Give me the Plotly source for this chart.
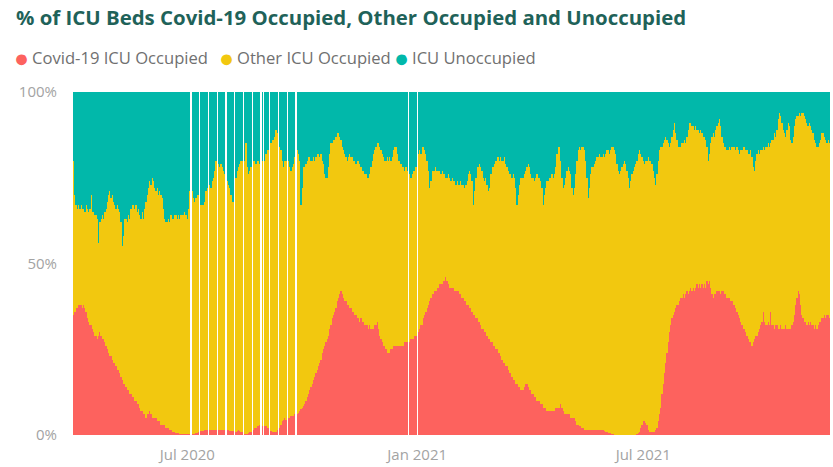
import pandas as pd
import plotly.graph_objects as go

# Daily share of ICU beds (%), starting 1 Apr 2020. None = no report that day.
START_DATE = "2020-04-01"

covid_pct = [
    35, 36, 37, 37, 38, 38, 38, 37,
    38, 37, 36, 34, 33, 32, 32, 31,
    30, 29, 29, 28, 29, 30, 29, 28,
    28, 27, 26, 25, 24, 23, 23, 22,
    21, 21, 20, 19, 19, 18, 17, 16,
    15, 15, 14, 13, 13, 12, 12, 11,
    11, 10, 10, 9, 9, 8, 7, 7,
    6, 6, 5, 6, 6, 7, 6, 5,
    5, 5, 5, 4, 4, 4, 3, 3,
    3, 3, 2, 2, 2, 1.5, 1.5, 1,
    1, 1, 0.5, 0.5, 0.5, 0.3, 0.3, 0.2,
    0.2, 0.2, 0.2, 0.2, 0.2, 0.2, None, 0.2,
    0.3, 0.3, 0.5, 0.5, 1, None, 1.3, 1.3,
    1.3, 1.5, 1.5, 1.5, None, 1.5, 1.5, 1.5,
    1.5, 1.5, 1.5, None, 1.5, 1.5, 1.5, 1.5,
    1.5, 1.5, None, 1.5, 1.5, 1.3, 1.3, 1.2,
    1.2, None, 1, 1.3, 1.5, 1.2, 1, 0.8,
    None, 0.3, 0.3, 0.3, 0.5, 0.8, 1, None,
    1.5, 2, 2, 2.5, 2.5, 3, None, 2.5,
    None, 2.5, 2.5, 2, 2, None, 1.3, 1,
    1, 1, 1, 1.5, None, 2, 3, 4,
    4.5, 5, 4.5, None, 5, 5, 5.5, 5.5,
    5.5, 6, None, 6, 6.5, 7, 7.5, 8,
    8.5, 9, 10, 11, 12, 13, 14, 15,
    16, 17, 18, 19, 20, 21, 22, 24,
    25, 26, 27, 28, 29, 31, 32, 34,
    35, 36, 37, 39, 40, 41, 42, 41,
    40, 39, 39, 38, 38, 37, 37, 36,
    36, 35, 35, 34, 34, 33, 34, 33,
    33, 32, 32, 32, 31, 32, 31, 31,
    31, 32, 32, 33, 31, 29, 28, 27,
    26, 26, 25, 24, 24, 24, 25, 25,
    26, 26, 26, 26, 26, 26, 26, 26,
    26, 27, 27, 27, None, 27, 28, 28,
    28, 29, 29, None, 30, 31, 32, 32,
    34, 35, 36, 37, 38, 39, 40, 41,
    41, 42, 42, 43, 43, 44, 44, 44,
    45, 45, 46, 45, 44, 43, 43, 43,
    43, 42, 42, 42, 42, 41, 41, 40,
    40, 39, 39, 38, 38, 37, 37, 36,
    35, 35, 34, 34, 33, 33, 32, 31,
    31, 30, 30, 29, 28, 28, 27, 27,
    26, 26, 25, 25, 24, 24, 23, 22,
    21, 21, 20, 20, 19, 18, 18, 17,
    16, 16, 15, 15, 14, 14, 13, 13,
    13, 14, 15, 15, 14, 13, 13, 12,
    12, 11, 11, 10, 10, 10, 9, 9,
    8, 8, 8, 7, 7, 7, 7, 7,
    7, 7, 8, 8, 8, 8, 9, 8,
    7, 6, 6, 6, 6, 6, 5, 5,
    5, 5, 4, 3, 3, 2.5, 2.5, 2,
    2, 1.5, 1.5, 1.5, 1.5, 1.5, 1.5, 1.5,
    1.5, 1.5, 1.5, 1.5, 1.5, 1.5, 1.5, 1.5,
    1.5, 1.2, 1, 0.8, 0.6, 0.5, 0.5, 0.3,
    0.2, 0.1, 0.1, 0.1, 0.1, 0.1, 0.1, 0.1,
    0.1, 0.1, 0.1, 0.1, 0.1, 0.1, 0.1, 0.1,
    0.1, 0.1, 0.1, 0.2, 0.5, 1, 2, 3,
    4, 4, 3.5, 3, 1.5, 1, 1, 1,
    1, 1, 1.5, 2, 4, 6, 8, 12,
    15, 18, 21, 24, 27, 30, 32, 34,
    35, 36, 37, 38, 38, 39, 40, 40,
    41, 40, 41, 42, 41, 42, 43, 42,
    43, 42, 43, 44, 43, 44, 43, 44,
    43, 44, 43, 45, 44, 45, 43, 41,
    40, 41, 41, 42, 42, 42, 41, 42,
    42, 41, 41, 40, 40, 40, 39, 39,
    38, 38, 37, 36, 35, 34, 33, 32,
    31, 31, 30, 29, 28, 27, 27, 26,
    27, 28, 29, 29, 30, 31, 32, 33,
    36, 33, 32, 32, 33, 32, 36, 32,
    32, 31, 32, 32, 31, 31, 32, 31,
    31, 31, 32, 31, 31, 31, 31, 32,
    33, 35, 38, 40, 42, 41, 38, 35,
    34, 33, 33, 32, 33, 32, 33, 32,
    32, 31, 32, 31, 32, 33, 33, 34,
    34, 35, 34, 35, 35, 34,
]

# Total occupied share (Covid-19 + other), %
occupied_pct = [
    80, 70, 67, 66, 67, 66, 67, 66,
    66, 65, 67, 66, 65, 66, 70, 65,
    65, 64, 64, 63, 56, 62, 63, 64,
    63, 65, 66, 68, 70, 71, 69, 70,
    68, 67, 66, 67, 66, 65, 62, 55,
    58, 63, 63, 62, 64, 63, 66, 67,
    67, 66, 67, 65, 66, 64, 63, 65,
    63, 66, 68, 70, 72, 74, 73, 75,
    74, 72, 71, 72, 70, 71, 70, 69,
    66, 63, 62, 62, 63, 62, 64, 63,
    63, 64, 64, 63, 64, 63, 64, 64,
    64, 65, 64, 63, 66, 71, None, 71,
    69, 68, 69, 70, 70, None, 67, 67,
    67, 68, 71, 72, None, 73, 72, 74,
    75, 77, 80, None, 79, 78, 79, 78,
    77, 76, None, 74, 73, 72, 70, 68,
    68, None, 75, 77, 78, 79, 80, 80,
    None, 80, 85, 78, 76, 77, 78, None,
    80, 80, 79, 80, 80, 79, None, 80,
    None, 80, 82, 83, 83, None, 85, 86,
    86, 87, 89, 88, None, 84, 83, 80,
    78, 80, 80, None, 80, 78, 77, 78,
    79, 81, None, 83, 82, 80, 67, 72,
    78, 78, 79, 80, 81, 81, 80, 80,
    81, 80, 81, 82, 82, 81, 82, 80,
    79, 76, 75, 75, 78, 82, 85, 85,
    86, 86, 87, 88, 88, 87, 86, 84,
    83, 82, 81, 80, 81, 82, 81, 81,
    80, 80, 79, 80, 80, 79, 78, 77,
    77, 76, 76, 75, 75, 76, 78, 80,
    82, 83, 84, 85, 85, 84, 83, 82,
    81, 80, 80, 81, 80, 81, 80, 81,
    83, 84, 84, 82, 80, 80, 79, 78,
    78, 77, 78, 77, None, 76, 75, 76,
    77, 77, 78, None, 82, 83, 82, 84,
    84, 83, 82, 80, 77, 72, 74, 77,
    77, 77, 78, 77, 77, 77, 76, 77,
    76, 76, 75, 75, 76, 75, 74, 75,
    74, 74, 73, 74, 73, 73, 74, 73,
    73, 72, 73, 74, 76, 77, 76, 74,
    67, 71, 75, 78, 78, 79, 78, 77,
    75, 74, 75, 73, 71, 72, 76, 78,
    78, 79, 80, 81, 81, 80, 81, 80,
    80, 81, 79, 78, 77, 76, 76, 75,
    76, 75, 72, 67, 70, 73, 75, 75,
    75, 76, 77, 78, 79, 78, 76, 75,
    75, 74, 75, 76, 75, 75, 74, 72,
    67, 70, 72, 74, 74, 75, 75, 76,
    75, 76, 78, 82, 84, 84, 80, 75,
    72, 73, 75, 77, 78, 77, 76, 72,
    70, 72, 76, 80, 83, 84, 83, 84,
    84, 83, 80, 75, 69, 72, 76, 78,
    78, 79, 80, 81, 81, 82, 81, 81,
    82, 81, 82, 83, 83, 82, 83, 84,
    84, 83, 82, 79, 77, 76, 77, 78,
    79, 80, 79, 77, 75, 72, 74, 76,
    77, 78, 79, 80, 82, 83, 82, 81,
    80, 79, 80, 80, 81, 80, 80, 79,
    77, 75, 73, 76, 80, 83, 84, 84,
    85, 86, 87, 86, 85, 84, 85, 87,
    89, 91, 88, 86, 84, 84, 84, 85,
    85, 86, 85, 87, 89, 91, 91, 90,
    90, 89, 90, 89, 89, 88, 89, 88,
    87, 87, 86, 84, 80, 82, 85, 87,
    88, 87, 89, 90, 91, 92, 90, 87,
    85, 84, 84, 83, 83, 84, 83, 84,
    84, 84, 83, 84, 83, 82, 83, 83,
    84, 84, 83, 83, 82, 82, 83, 81,
    78, 77, 80, 82, 83, 82, 83, 83,
    84, 83, 84, 84, 85, 84, 85, 86,
    86, 88, 87, 89, 92, 94, 93, 91,
    89, 88, 87, 89, 91, 90, 86, 85,
    87, 90, 92, 93, 93, 94, 93, 94,
    94, 93, 92, 91, 90, 91, 90, 89,
    88, 86, 85, 84, 84, 85, 86, 88,
    88, 87, 86, 85, 86, 85,
]

series_names = ["Covid-19 ICU Occupied", "Other ICU Occupied", "ICU Unoccupied"]
series_colors = ["#FD625E", "#F2C80F", "#01B8AA"]
tick_dates = ["2020-07-01", "2021-01-01", "2021-07-01"]
tick_labels = ["Jul 2020", "Jan 2021", "Jul 2021"]

dates = pd.date_range(START_DATE, periods=len(covid_pct), freq="D")

other_pct = [None if (t is None or c is None) else t - c
             for c, t in zip(covid_pct, occupied_pct)]
unoccupied_pct = [None if t is None else 100 - t for t in occupied_pct]

DAY_MS = 86400000
fig = go.Figure()
for name, color, vals in zip(series_names, series_colors,
                             [covid_pct, other_pct, unoccupied_pct]):
    fig.add_trace(go.Bar(
        x=dates, y=vals, name=name,
        marker=dict(color=color, line=dict(width=0)),
        width=DAY_MS * 1.04,
        showlegend=False,
    ))

FONT = "Open Sans"
W, H = 833, 467
L, R, T, B = 73, 3, 92, 30
pw, ph = W - L - R, H - T - B


def px_x(px):
    return (px - L) / pw


def px_y(py):
    return (H - B - py) / ph


fig.update_layout(
    width=W, height=H,
    margin=dict(l=L, r=R, t=T, b=B),
    barmode="stack", bargap=0,
    paper_bgcolor="white", plot_bgcolor="white",
    font=dict(family=FONT),
    title=dict(
        text="<b>% of ICU Beds Covid-19 Occupied, Other Occupied and Unoccupied</b>",
        x=16 / W, xref="container", xanchor="left",
        y=1 - 18 / H, yref="container", yanchor="middle",
        font=dict(family=FONT, size=20.4, color="#1f6259"),
    ),
    xaxis=dict(
        type="date",
        range=[pd.Timestamp(START_DATE) - pd.Timedelta(hours=12),
               dates[-1] + pd.Timedelta(hours=12)],
        tickmode="array", tickvals=tick_dates, ticktext=tick_labels,
        showgrid=False, zeroline=False, showline=False,
        ticks="outside", ticklen=6, tickcolor="rgba(0,0,0,0)",
        tickfont=dict(family=FONT, size=15, color="#a3a3a3"),
    ),
    yaxis=dict(
        range=[0, 100],
        tickmode="array", tickvals=[0, 50, 100], ticktext=["0%", "50%", "100%"],
        showgrid=False, zeroline=False, showline=False,
        ticks="outside", ticklen=12, tickcolor="rgba(0,0,0,0)",
        tickfont=dict(family=FONT, size=15, color="#a3a3a3"),
    ),
)

# Legend row: coloured dot, then the series name
legend_dot_px = [21, 226, 401]
legend_text_px = [30, 235, 410]
for name, color, dx, tx in zip(series_names, series_colors,
                               legend_dot_px, legend_text_px):
    fig.add_annotation(
        xref="paper", yref="paper",
        x=px_x(dx), y=px_y(57), xanchor="center", yanchor="middle",
        showarrow=False, text="●",
        font=dict(family=FONT, size=25, color=color),
    )
    fig.add_annotation(
        xref="paper", yref="paper",
        x=px_x(tx), y=px_y(57), xanchor="left", yanchor="middle",
        showarrow=False, text=name,
        font=dict(family=FONT, size=16.6, color="#707070"),
    )

# staticPlot keeps the exact fractional bar edges (no pixel snapping)
fig.write_html("out.html", config={"staticPlot": True})
